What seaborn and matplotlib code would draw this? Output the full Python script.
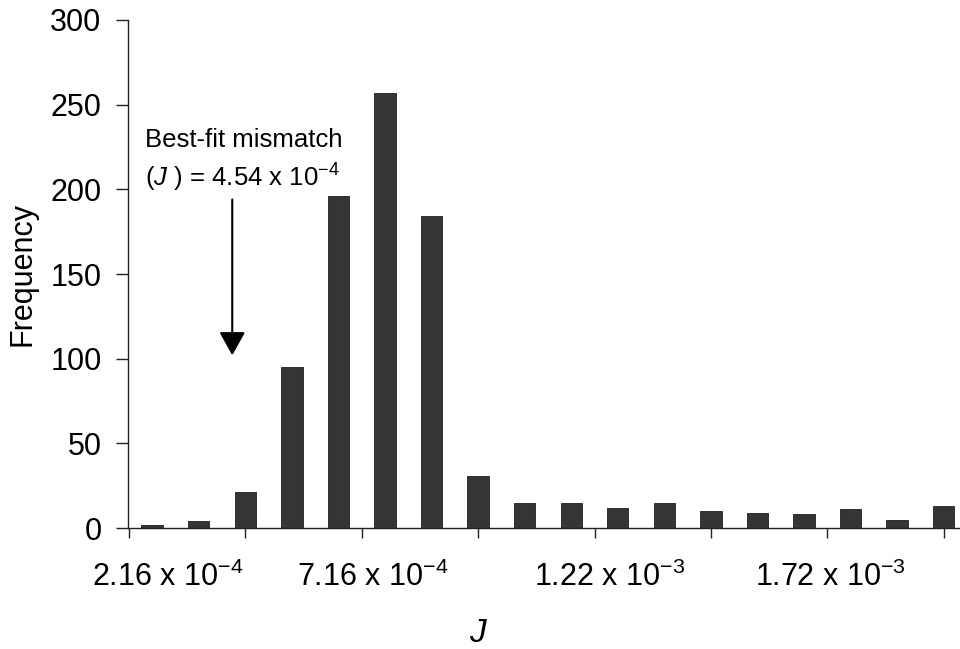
import matplotlib
matplotlib.use("Agg")
import matplotlib.pyplot as plt
import seaborn as sns
import pandas as pd

# bin start values (J) and counts
bin_start = ["2.16e-4", "3.16e-4", "4.16e-4", "5.16e-4", "6.16e-4", "7.16e-4",
             "8.16e-4", "9.16e-4", "1.016e-3", "1.116e-3", "1.216e-3", "1.316e-3",
             "1.416e-3", "1.516e-3", "1.616e-3", "1.716e-3", "1.816e-3", "1.916e-3"]
frequency = [2, 4, 21, 95, 196, 257, 184, 31, 15, 15, 12, 15, 10, 9, 8, 11, 5, 13]

tick_labels = [r"2.16 x 10$^{-4}$", r"7.16 x 10$^{-4}$",
               r"1.22 x 10$^{-3}$", r"1.72 x 10$^{-3}$"]
tick_label_pos = [0.33, 4.74, 9.83, 14.57]
major_tick_pos = [-0.5, 2, 4.5, 7, 9.5, 12, 14.5, 17]

sns.set_theme(style="white")
plt.rcParams["font.family"] = ["Liberation Sans", "DejaVu Sans"]
plt.rcParams["mathtext.fontset"] = "custom"
plt.rcParams["mathtext.rm"] = "Liberation Sans"
plt.rcParams["mathtext.it"] = "Liberation Sans:italic"
plt.rcParams["mathtext.default"] = "regular"

df = pd.DataFrame({"bin": bin_start, "freq": frequency})

fig = plt.figure(figsize=(9.6, 6.49), dpi=100)
ax = fig.add_axes([0.1333, 0.1864, 0.8667, 0.7828])

sns.barplot(data=df, x="bin", y="freq", color="#353535", saturation=1,
            width=0.46, edgecolor="#1e1e1e", linewidth=0.6, ax=ax)

ax.set_xlim(-0.52, 17.35)
ax.set_ylim(0, 300)
ax.set_yticks(range(0, 301, 50))

ax.set_xticks(major_tick_pos)
ax.set_xticklabels([""] * len(major_tick_pos))
ax.set_xticks(tick_label_pos, minor=True)
ax.set_xticklabels(tick_labels, minor=True)

ax.tick_params(axis="y", which="major", left=True, direction="out", length=9,
               width=1, color="#222222", pad=10, labelsize=22, labelcolor="black")
ax.tick_params(axis="x", which="major", bottom=True, direction="out", length=7,
               width=1, color="#222222")
ax.tick_params(axis="x", which="minor", bottom=True, length=0, pad=24,
               labelsize=22, labelcolor="black")

for side in ["top", "right"]:
    ax.spines[side].set_visible(False)
for side in ["left", "bottom"]:
    ax.spines[side].set_color("#222222")
    ax.spines[side].set_linewidth(1)

ax.set_ylabel("Frequency", fontsize=22, color="black", labelpad=9)
ax.set_xlabel("J", fontsize=24, style="italic", color="black")
ax.xaxis.set_label_coords(0.42, -0.177)
ax.xaxis.label.set_va("top")

ax.text(-0.15, 229, "Best-fit mismatch", fontsize=18.5, va="center", ha="left",
        color="black")
ax.text(-0.15, 207, r"($\mathit{J}$ ) = 4.54 x 10$^{-4}$", fontsize=18.5,
        va="center", ha="left", color="black")
ax.annotate("", xy=(1.72, 102), xytext=(1.72, 194),
            arrowprops=dict(arrowstyle="-|>,head_length=0.72,head_width=0.4",
                            color="black", lw=1.5, mutation_scale=20,
                            shrinkA=0, shrinkB=0))

fig.savefig("out.png", dpi=100)
